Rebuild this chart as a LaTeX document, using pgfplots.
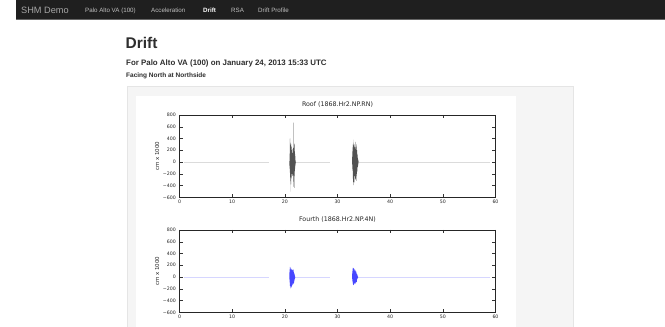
\documentclass[border=0pt]{standalone}
\usepackage{pgfplots}
\pgfplotsset{compat=1.18}
\usepackage{fontspec}
\setmainfont{Liberation Sans}
\newfontfamily\dejavu{DejaVu Sans}

\pgfplotsset{
  seisaxis/.style={
    anchor=south west, scale only axis, width=316pt, height=82.3pt,
    xmin=0, xmax=60, ymin=-600, ymax=800,
    xtick={0,10,20,30,40,50,60},
    xticklabels={0,10,20,30,40,50,60},
    ytick={-600,-400,-200,0,200,400,600,800},
    yticklabels={−600,−400,−200,0,200,400,600,800},
    minor tick num=0,
    tick align=inside, major tick length=3pt,
    tick style={line width=0.45pt, black!80},
    axis line style={line width=0.7pt, black!85},
    ticklabel style={font=\dejavu\fontsize{4.7}{5}\selectfont, text=black!85},
    yticklabel style={inner sep=0pt, xshift=-3.5pt},
    xticklabel style={inner sep=0pt, yshift=-3.0pt},
    ylabel={cm x 1000},
    ylabel style={font=\dejavu\fontsize{5.5}{6}\selectfont, text=black!85, at={(axis description cs:-0.0633,0.5)}, anchor=south, inner sep=0pt},
    title style={font=\dejavu\fontsize{6.3}{7}\selectfont, text=black!85, at={(axis description cs:0.5,1)}, anchor=base, yshift=2.8pt, inner sep=0pt},
    /pgf/number format/assume math mode=true,
    every axis plot/.append style={no markers, line join=round},
  }
}

\begin{document}
\begin{tikzpicture}[x=1pt,y=1pt]
\fill[white] (0,0) rectangle (665,327);
\useasboundingbox (0,0) rectangle (665,327);
% navbar
\fill[black!88] (16,308) rectangle (665,327);
\draw[black!60, line width=0.4pt] (16,308) -- (665,308);
\node[anchor=base west, inner sep=0pt, text=black!35, font=\fontsize{9.2}{10}\selectfont] at (21,313) {SHM Demo};
\node[anchor=base west, inner sep=0pt, text=black!25, font=\fontsize{6.2}{7}\selectfont] at (85,314.5) {Palo Alto VA (100)};
\node[anchor=base west, inner sep=0pt, text=black!25, font=\fontsize{6.2}{7}\selectfont] at (151,314.5) {Acceleration};
\node[anchor=base west, inner sep=0pt, text=white, font=\bfseries\fontsize{6.2}{7}\selectfont] at (203,314.5) {Drift};
\node[anchor=base west, inner sep=0pt, text=black!25, font=\fontsize{6.2}{7}\selectfont] at (231,314.5) {RSA};
\node[anchor=base west, inner sep=0pt, text=black!25, font=\fontsize{6.2}{7}\selectfont] at (258,314.5) {Drift Profile};
% headings
\node[anchor=base west, inner sep=0pt, text=black!82, font=\bfseries\fontsize{15.5}{17}\selectfont] at (125.5,278) {Drift};
\node[anchor=base west, inner sep=0pt, text=black!82, font=\bfseries\fontsize{7.9}{9}\selectfont] at (126,261) {For Palo Alto VA (100) on January 24, 2013 15:33 UTC};
\node[anchor=base west, inner sep=0pt, text=black!82, font=\bfseries\fontsize{6.5}{7}\selectfont] at (126,249.7) {Facing North at Northside};
% well and image panel
\filldraw[fill=black!4, draw=black!10, line width=0.5pt] (127,-2) rectangle (573,240.3);
\fill[white] (136,-2) rectangle (516,231.3);

% ---------- Roof ----------
\begin{axis}[seisaxis, at={(179.5pt,129.7pt)}, title={Roof (1868.Hr2.NP.RN)}]
\addplot[black!14, line width=0.4pt] coordinates {(0.9,0) (16.9,0)};
\addplot[black!14, line width=0.4pt] coordinates {(22.08,0) (28.5,0)};
\addplot[black!14, line width=0.4pt] coordinates {(34.02,0) (59.0,0)};
\addplot[black!68, line width=0.2pt] coordinates {
(20.88,15) (20.90,-60) (20.92,140) (20.94,-110) (20.96,260) (20.98,-180)
(21.00,400) (21.02,-260) (21.04,330) (21.06,-320) (21.08,220) (21.10,-500)
(21.12,290) (21.14,-240) (21.16,310) (21.18,-380) (21.20,180) (21.22,-260)
(21.24,240) (21.26,-200) (21.28,260) (21.30,-150) (21.32,200) (21.34,-280)
(21.36,130) (21.38,-180) (21.40,220) (21.42,-120) (21.44,160) (21.46,-230)
(21.48,110) (21.50,-90) (21.52,150) (21.54,-200) (21.56,120) (21.58,-160)
(21.60,240) (21.62,-300) (21.64,170) (21.66,-420) (21.68,670) (21.70,-330)
(21.72,260) (21.74,-200) (21.76,320) (21.78,-440) (21.80,250) (21.82,-190)
(21.84,300) (21.86,-240) (21.88,180) (21.90,-150) (21.92,140) (21.94,-110)
(21.96,100) (21.98,-70) (22.00,60) (22.02,-40) (22.04,25) (22.06,-10) (22.08,0)};
\addplot[black!68, line width=0.2pt] coordinates {
(32.78,10) (32.80,-40) (32.82,90) (32.84,-120) (32.86,180) (32.88,-150)
(32.90,250) (32.92,-220) (32.94,300) (32.96,-280) (32.98,200) (33.00,-340)
(33.02,330) (33.04,-260) (33.06,380) (33.08,-390) (33.10,280) (33.12,-300)
(33.14,240) (33.16,-220) (33.18,300) (33.20,-350) (33.22,260) (33.24,-180)
(33.26,220) (33.28,-240) (33.30,180) (33.32,-150) (33.34,250) (33.36,-300)
(33.38,200) (33.40,-260) (33.42,340) (33.44,-200) (33.46,160) (33.48,-280)
(33.50,220) (33.52,-180) (33.54,260) (33.56,-320) (33.58,200) (33.60,-240)
(33.62,300) (33.64,-200) (33.66,180) (33.68,-150) (33.70,200) (33.72,-120)
(33.74,140) (33.76,-160) (33.78,110) (33.80,-90) (33.82,120) (33.84,-80)
(33.86,70) (33.88,-60) (33.90,50) (33.92,-40) (33.94,30) (33.96,-20)
(33.98,10) (34.00,-5) (34.02,0)};
\end{axis}

% ---------- Fourth ----------
\begin{axis}[seisaxis, at={(179.5pt,14.7pt)}, title={Fourth (1868.Hr2.NP.4N)}]
\addplot[blue!16, line width=0.4pt] coordinates {(0.9,0) (16.9,0)};
\addplot[blue!16, line width=0.4pt] coordinates {(21.98,0) (28.5,0)};
\addplot[blue!16, line width=0.4pt] coordinates {(33.92,0) (59.0,0)};
\addplot[blue!72, line width=0.2pt] coordinates {
(20.86,10) (20.88,-40) (20.90,80) (20.92,-90) (20.94,130) (20.96,-110)
(20.98,170) (21.00,-150) (21.02,150) (21.04,-130) (21.06,160) (21.08,-170)
(21.10,140) (21.12,-190) (21.14,120) (21.16,-150) (21.18,130) (21.20,-180)
(21.22,110) (21.24,-140) (21.26,120) (21.28,-120) (21.30,140) (21.32,-160)
(21.34,100) (21.36,-110) (21.38,130) (21.40,-100) (21.42,90) (21.44,-130)
(21.46,110) (21.48,-90) (21.50,120) (21.52,-140) (21.54,100) (21.56,-110)
(21.58,130) (21.60,-120) (21.62,90) (21.64,-100) (21.66,110) (21.68,-90)
(21.70,80) (21.72,-110) (21.74,70) (21.76,-80) (21.78,60) (21.80,-70)
(21.82,50) (21.84,-50) (21.86,40) (21.88,-30) (21.90,25) (21.92,-20)
(21.94,10) (21.96,-5) (21.98,0)};
\addplot[blue!72, line width=0.2pt] coordinates {
(32.78,5) (32.80,-30) (32.82,60) (32.84,-70) (32.86,100) (32.88,-90)
(32.90,140) (32.92,-110) (32.94,160) (32.96,-120) (32.98,130) (33.00,-135)
(33.02,150) (33.04,-110) (33.06,120) (33.08,-130) (33.10,110) (33.12,-100)
(33.14,140) (33.16,-120) (33.18,100) (33.20,-110) (33.22,130) (33.24,-90)
(33.26,110) (33.28,-100) (33.30,90) (33.32,-120) (33.34,100) (33.36,-80)
(33.38,120) (33.40,-100) (33.42,90) (33.44,-110) (33.46,80) (33.48,-90)
(33.50,100) (33.52,-80) (33.54,70) (33.56,-90) (33.58,80) (33.60,-70)
(33.62,60) (33.64,-80) (33.66,50) (33.68,-60) (33.70,50) (33.72,-40)
(33.74,40) (33.76,-35) (33.78,30) (33.80,-25) (33.82,20) (33.84,-15)
(33.86,10) (33.88,-8) (33.90,5) (33.92,0)};
\end{axis}
\end{tikzpicture}
\end{document}
